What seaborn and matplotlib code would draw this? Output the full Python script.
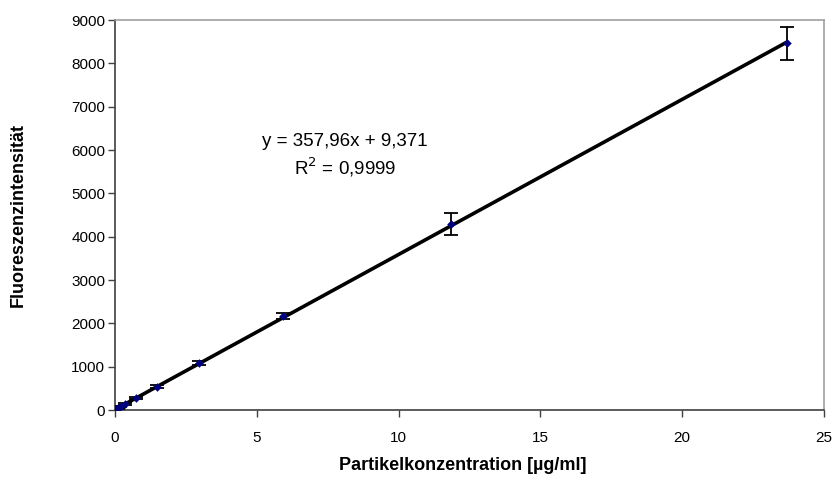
import numpy as np
import pandas as pd
import matplotlib
matplotlib.use("Agg")
import matplotlib.pyplot as plt
import seaborn as sns

# Data
concentration = [0.05, 0.09, 0.19, 0.37, 0.74, 1.48, 2.96, 5.93, 11.85, 23.7]
intensity = [20, 40, 75, 140, 275, 540, 1080, 2160, 4300, 8460]
error = [5, 10, 15, 20, 30, 40, 40, 70, 250, 390]
slope = 357.96
intercept = 9.371
eq_text = "y = 357,96x + 9,371"
r2_text = "R$^2$ = 0,9999"
x_ticks = [0, 5, 10, 15, 20, 25]
y_ticks = [0, 1000, 2000, 3000, 4000, 5000, 6000, 7000, 8000, 9000]

sns.set_theme(style="white")
plt.rcParams['font.family'] = ['Liberation Sans', 'DejaVu Sans']
plt.rcParams['text.color'] = 'black'

df = pd.DataFrame({"x": concentration, "y": intensity, "err": error})
fit = pd.DataFrame({"x": [min(concentration), max(concentration)]})
fit["y"] = slope * fit["x"] + intercept

fig = plt.figure(figsize=(8.38, 5.04), dpi=100)
ax = fig.add_axes([115/838, 1-410/504, (824-115)/838, (410-20)/504])

sns.lineplot(data=fit, x="x", y="y", ax=ax, color="black", linewidth=2.6, zorder=2)
ax.errorbar(df["x"], df["y"], yerr=df["err"], fmt="none", ecolor="black",
            elinewidth=1.3, capsize=5, capthick=1.3, zorder=3)
sns.scatterplot(data=df, x="x", y="y", ax=ax, marker="D", s=16, color="#000080",
                edgecolor="#000080", zorder=4)

ax.set_xlim(0, 25)
ax.set_ylim(0, 9000)
ax.set_xticks(x_ticks)
ax.set_yticks(y_ticks)
ax.set_xticklabels([str(v) for v in x_ticks], fontsize=11)
ax.set_yticklabels([str(v) for v in y_ticks], fontsize=11)
ax.tick_params(axis="both", direction="out", length=5, width=1, color="#404040",
               bottom=True, left=True, labelcolor="black")
ax.tick_params(axis="y", pad=2)
ax.tick_params(axis="x", pad=10)
ax.set_xlabel("")
ax.set_ylabel("")

for side in ["left", "bottom"]:
    ax.spines[side].set_color("#404040")
    ax.spines[side].set_linewidth(1.2)
for side in ["top", "right"]:
    ax.spines[side].set_color("#a0a0a0")
    ax.spines[side].set_linewidth(1.2)
ax.grid(False)

fig.text(345/838, 1-142/504, eq_text, ha="center", va="center", fontsize=13.5,
         color="black")
fig.text(345/838, 1-167/504, r2_text, ha="center", va="center", fontsize=13.5,
         color="black")

fig.text(463/838, 1-466/504, "Partikelkonzentration [µg/ml]", ha="center",
         va="center", fontsize=13, fontweight="bold", color="black")
fig.text(18/838, 1-215/504, "Fluoreszenzintensität", ha="center", va="center",
         rotation=90, fontsize=13, fontweight="bold", color="black")

fig.savefig("out.png", dpi=100)
